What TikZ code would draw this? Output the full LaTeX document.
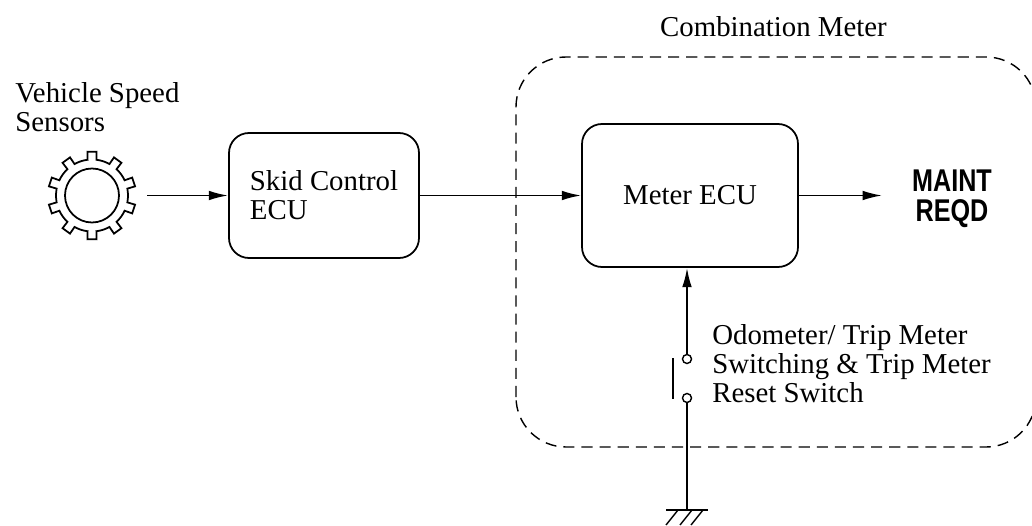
\documentclass[tikz,border=0pt]{standalone}
\usepackage{fontspec,graphicx}
\setmainfont{Liberation Serif}
\newfontfamily\panelfont{Liberation Sans}
\usetikzlibrary{arrows.meta,positioning}

\begin{document}
\begin{tikzpicture}[
        box/.style={draw,line width=1pt,rounded corners=0.4cm,align=left,
            font=\fontsize{16.4}{16.4}\selectfont},
        sig/.style={line width=1pt,-{Latex[length=11pt,width=5.5pt]}},
        lbl/.style={font=\fontsize{16.4}{16.4}\selectfont,align=left,inner sep=0pt},
        contact/.style={circle,draw,line width=0.8pt,minimum size=0.18cm,inner sep=0pt}
    ]
            \clip (0,0) rectangle (20.64,10.5);
            % combination meter outline
            \draw[dash pattern=on 6.3pt off 4pt,line width=0.8pt,rounded corners=1cm] (10.32,1.56) rectangle (20.72,9.36);
            \node[lbl,anchor=base] (cmbmeter) at (15.47,9.76) {Combination Meter};
            % speed sensor
            \node[lbl,anchor=north west] (vss) at (0.3,8.86) {Vehicle Speed\\Sensors};
            \begin{scope}[shift={(1.84,6.59)},line width=1pt]
                \draw (0,0) circle (0.54);
                \draw (83:0.72) \foreach \a in {90,126,...,414}{
                    -- ({\a-6}:0.88) -- ({\a+6}:0.88) -- ({\a+7}:0.72)
                    arc[start angle=\a+7,end angle=\a+29,radius=0.72]} -- cycle;
            \end{scope}
            \coordinate (sensor) at (2.94,6.59);
            % ECUs
            \node[box,minimum width=3.8cm,minimum height=2.5cm] (skid) at (6.48,6.59) {Skid Control\\ECU};
            \node[box,minimum width=4.32cm,minimum height=2.86cm] (meter) at (13.8,6.59) {Meter ECU};
            \node[anchor=north,inner sep=0pt,align=center,font=\panelfont\bfseries\fontsize{17.9}{17}\selectfont] (maint) at (19.04,7.1)
                {\scalebox{0.8}[1]{MAINT}\\\scalebox{0.8}[1]{REQD}};
            \coordinate (maintin) at (17.64,6.59);
            \draw[sig] (sensor) -- (skid.west);
            \draw[sig] (skid.east) -- (meter.west);
            \draw[sig] (meter.east) -- (maintin);
            % switch and ground
            \node[contact] (swtop) at (13.74,3.32) {};
            \node[contact] (swbot) at (13.74,2.54) {};
            \draw[sig] (swtop) -- (swtop |- meter.south);
            \draw[line width=1pt] (13.46,3.34) -- (13.46,2.52);
            \coordinate (gnd) at (13.74,0.3);
            \draw[line width=1pt] (swbot) -- (gnd);
            \draw[line width=1.2pt] (13.32,0.3) -- (14.16,0.3);
            \foreach \x in {13.56,13.84,14.06}
                \draw[line width=0.8pt] (\x,0.3) -- (\x-0.24,0);
            \node[lbl,anchor=north west] (odo) at (14.24,4.01) {Odometer/ Trip Meter\\Switching \& Trip Meter\\Reset Switch};
        \end{tikzpicture}
\end{document}
